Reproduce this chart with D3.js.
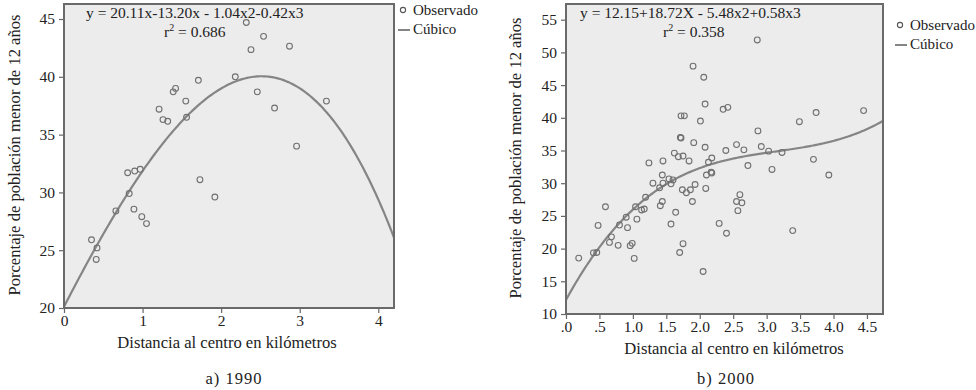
<!DOCTYPE html>
<html lang="es">
<head>
<meta charset="UTF-8">
<title>Porcentaje de población menor de 12 años</title>
<script src="https://d3js.org/d3.v7.min.js"></script>
<style>
  body { margin: 0; background: #ffffff; }
  svg text { font-family: "Liberation Serif", "DejaVu Serif", serif; fill: #222; }
</style>
</head>
<body>
<svg id="mainCanvas" width="976" height="390"></svg>
<script>

let obs1990 = [
  [2.32, 44.7], [2.54, 43.5], [2.38, 42.35], [2.87, 42.65], [2.18, 40.0], [1.71, 39.7],
  [1.42, 39.0], [1.39, 38.7], [2.46, 38.7], [1.55, 37.9], [3.34, 37.9], [1.21, 37.2],
  [2.68, 37.3], [1.26, 36.3], [1.32, 36.15], [1.56, 36.5], [2.96, 34.0], [0.81, 31.7],
  [0.90, 31.85], [0.97, 32.0], [1.73, 31.1], [0.83, 29.9], [1.92, 29.6], [0.66, 28.4],
  [0.89, 28.55], [0.99, 27.9], [1.05, 27.3], [0.35, 25.9], [0.42, 25.2], [0.41, 24.2]
];

let obs2000 = [
  [2.86, 51.9], [1.90, 47.9], [2.06, 46.2], [2.08, 42.1], [2.35, 41.3], [2.42, 41.6],
  [3.74, 40.8], [4.45, 41.1], [3.49, 39.4], [1.72, 40.3], [1.77, 40.3], [2.01, 39.5],
  [1.71, 37.0], [1.72, 36.9], [2.87, 38.0], [1.91, 36.2], [2.08, 35.5], [2.55, 35.9],
  [2.92, 35.6], [2.39, 35.0], [2.66, 35.1], [3.03, 34.9], [3.23, 34.7], [1.62, 34.6],
  [1.68, 34.05], [1.75, 34.15], [2.18, 33.85], [2.13, 33.2], [1.84, 33.4], [1.45, 33.4],
  [1.24, 33.1], [3.70, 33.65], [2.72, 32.7], [3.08, 32.1], [3.93, 31.25], [2.17, 31.7],
  [2.18, 31.55], [2.10, 31.25], [1.44, 31.25], [1.54, 30.65], [1.60, 30.5], [1.45, 30.0],
  [1.30, 30.0], [1.57, 29.9], [1.40, 29.3], [1.93, 29.8], [2.09, 29.2], [1.74, 29.0],
  [1.86, 29.0], [1.80, 28.55], [2.60, 28.25], [1.19, 27.85], [1.89, 27.2], [1.44, 27.2],
  [2.55, 27.2], [2.63, 27.0], [2.57, 25.8], [1.41, 26.55], [1.04, 26.4], [0.59, 26.4],
  [1.13, 25.9], [1.17, 26.05], [1.64, 25.55], [1.06, 24.5], [0.90, 24.8], [0.48, 23.55],
  [0.80, 23.6], [1.57, 23.75], [2.29, 23.85], [0.92, 23.2], [2.40, 22.35], [3.39, 22.75],
  [0.68, 21.8], [0.65, 20.95], [1.75, 20.75], [0.99, 20.8], [0.96, 20.45], [0.78, 20.5],
  [1.70, 19.4], [0.41, 19.35], [0.46, 19.4], [0.19, 18.55], [1.02, 18.5], [2.05, 16.5]
];

// cubic fit coefficients (a + b x + c x^2 + d x^3)
let fit1990 = [20.11, 13.20, -1.04, -0.42];
let fit2000 = [12.15, 18.72, -5.48, 0.58];

let xTicks1990 = [0, 1, 2, 3, 4];
let yTicks1990 = [20, 25, 30, 35, 40, 45];
let xTicks2000 = [0, 0.5, 1, 1.5, 2, 2.5, 3, 3.5, 4, 4.5];
let xTickLabels2000 = ['.0', '.5', '1.0', '1.5', '2.0', '2.5', '3.0', '3.5', '4.0', '4.5'];
let yTicks2000 = [10, 15, 20, 25, 30, 35, 40, 45, 50, 55];

let svg = d3.select('#mainCanvas');

let drawPanel = function(p) {
  let g = svg.append('g');
  let x = d3.scaleLinear().domain(p.xDomain).range([p.left, p.right]);
  let y = d3.scaleLinear().domain(p.yDomain).range([p.bottom, p.top]);

  g.append('rect')
    .attr('x', p.left).attr('y', p.top)
    .attr('width', p.right - p.left).attr('height', p.bottom - p.top)
    .style('fill', '#ececec');

  g.append('clipPath').attr('id', p.id + 'Clip')
    .append('rect')
    .attr('x', p.left).attr('y', p.top)
    .attr('width', p.right - p.left).attr('height', p.bottom - p.top);

  // axes
  let xAxis = d3.axisBottom(x).tickValues(p.xTicks).tickSize(5).tickPadding(2)
    .tickFormat((d, i) => p.xLabels ? p.xLabels[i] : d);
  let yAxis = d3.axisLeft(y).tickValues(p.yTicks).tickSize(5).tickPadding(4);

  let ax = g.append('g').attr('transform', 'translate(0,' + p.bottom + ')').call(xAxis);
  let ay = g.append('g').attr('transform', 'translate(' + p.left + ',0)').call(yAxis);
  [ax, ay].forEach(a => {
    a.select('.domain').remove();
    a.selectAll('line').style('stroke', '#666').style('stroke-width', 1.2);
    a.selectAll('text').style('font-size', '15.5px').style('fill', '#222')
      .style('font-family', '"Liberation Serif", serif');
  });

  // fitted cubic
  let c = p.fit;
  let xs = d3.range(0, 201).map(i => p.xDomain[0] + (p.xDomain[1] - p.xDomain[0]) * i / 200);
  let line = d3.line()
    .x(d => x(d))
    .y(d => y(c[0] + c[1] * d + c[2] * d * d + c[3] * d * d * d));
  g.append('path')
    .datum(xs)
    .attr('d', line)
    .attr('clip-path', 'url(#' + p.id + 'Clip)')
    .style('fill', 'none')
    .style('stroke', '#858585')
    .style('stroke-width', 2.2);

  g.selectAll('circle.obs')
    .data(p.obs)
    .enter().append('circle')
    .attr('class', 'obs')
    .attr('cx', d => x(d[0]))
    .attr('cy', d => y(d[1]))
    .attr('r', 2.9)
    .style('fill', 'none')
    .style('stroke', '#707070')
    .style('stroke-width', 1.1);

  // frame
  g.append('rect')
    .attr('x', p.left).attr('y', p.top)
    .attr('width', p.right - p.left).attr('height', p.bottom - p.top)
    .style('fill', 'none')
    .style('stroke', '#6a6a6a')
    .style('stroke-width', 2);

  // equation and r2
  g.append('text')
    .attr('x', p.eqX).attr('y', 18)
    .style('font-size', '15.5px')
    .text(p.equation);
  let r2 = g.append('text')
    .attr('x', p.r2X).attr('y', 37)
    .style('font-size', '15.5px');
  r2.append('tspan').text('r');
  r2.append('tspan').attr('dy', -6).style('font-size', '10px').text('2');
  r2.append('tspan').attr('dy', 6).text(' = ' + p.r2);

  // legend
  g.append('circle')
    .attr('cx', p.legX + 5).attr('cy', p.legY - 5).attr('r', 2.6)
    .style('fill', 'none').style('stroke', '#555').style('stroke-width', 1.1);
  g.append('text').attr('x', p.legX + 15).attr('y', p.legY)
    .style('font-size', '15px').text('Observado');
  g.append('line')
    .attr('x1', p.legX).attr('x2', p.legX + 12)
    .attr('y1', p.legY + 15).attr('y2', p.legY + 15)
    .style('stroke', '#858585').style('stroke-width', 2);
  g.append('text').attr('x', p.legX + 15).attr('y', p.legY + 19)
    .style('font-size', '15px').text('Cúbico');

  // titles
  g.append('text')
    .attr('transform', 'translate(' + p.yTitleX + ',' + p.yTitleY + ') rotate(-90)')
    .attr('text-anchor', 'middle')
    .style('font-size', '16.6px')
    .text('Porcentaje de población menor de 12 años');
  g.append('text')
    .attr('x', p.xTitleX).attr('y', p.xTitleY)
    .attr('text-anchor', 'middle')
    .style('font-size', '16.6px')
    .text('Distancia al centro en kilómetros');
  g.append('text')
    .attr('x', p.captionX).attr('y', 384)
    .attr('text-anchor', 'middle')
    .style('font-size', '16.5px')
    .style('letter-spacing', '1px')
    .text(p.caption);
};

drawPanel({
  id: 'p1990', obs: obs1990, fit: fit1990,
  xDomain: [0, 4.2], yDomain: [20, 46.3],
  left: 64, right: 394, top: 4, bottom: 308,
  xTicks: xTicks1990, yTicks: yTicks1990,
  equation: 'y = 20.11x-13.20x - 1.04x2-0.42x3', eqX: 86,
  r2: '0.686', r2X: 164,
  legX: 398, legY: 15,
  yTitleX: 20, yTitleY: 155, xTitleX: 227, xTitleY: 348,
  caption: 'a) 1990', captionX: 234
});

drawPanel({
  id: 'p2000', obs: obs2000, fit: fit2000,
  xDomain: [0, 4.74], yDomain: [10, 57.4],
  left: 566, right: 883, top: 4, bottom: 314,
  xTicks: xTicks2000, xLabels: xTickLabels2000, yTicks: yTicks2000,
  equation: 'y = 12.15+18.72X - 5.48x2+0.58x3', eqX: 580,
  r2: '0.358', r2X: 663,
  legX: 895, legY: 30,
  yTitleX: 521, yTitleY: 158, xTitleX: 734, xTitleY: 354,
  caption: 'b) 2000', captionX: 726
});

</script>
</body>
</html>
